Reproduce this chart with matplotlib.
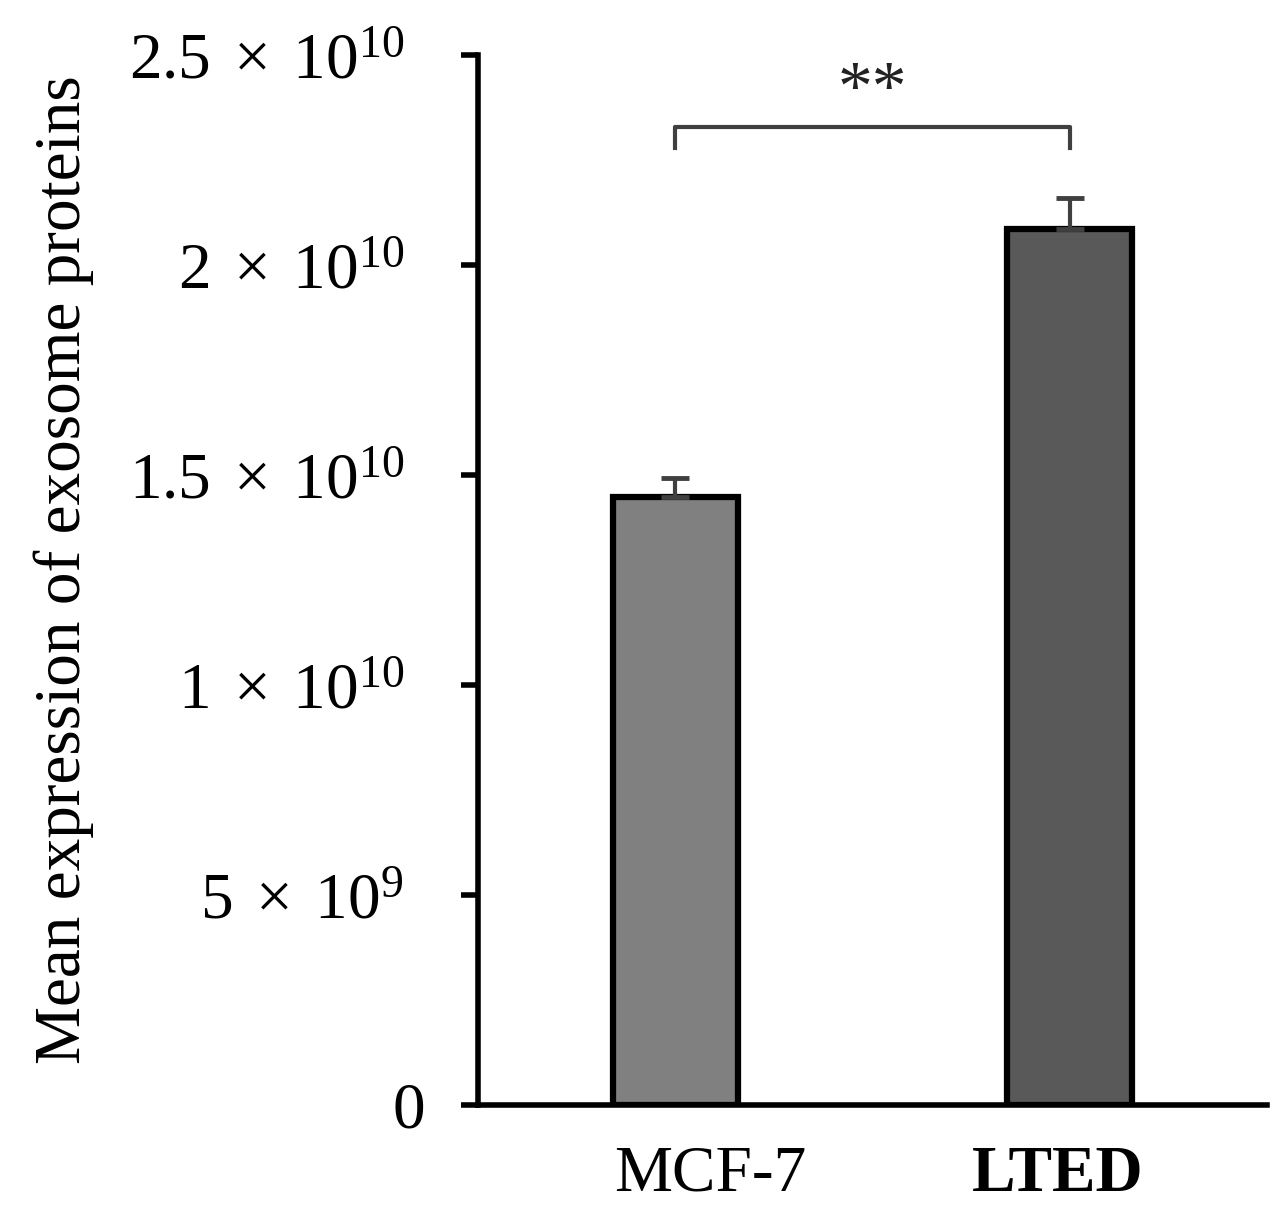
import numpy as np
import matplotlib
matplotlib.use("Agg")
import matplotlib.pyplot as plt
from matplotlib.transforms import ScaledTranslation

plt.rcParams['font.family'] = ['Liberation Serif', 'DejaVu Serif']
plt.rcParams['mathtext.fontset'] = 'custom'
plt.rcParams['mathtext.rm'] = 'Liberation Serif'
plt.rcParams['mathtext.it'] = 'Liberation Serif:italic'
plt.rcParams['mathtext.bf'] = 'Liberation Serif:bold'

# data
groups = ['MCF-7', 'LTED']
means = [1.448e10, 2.086e10]
errors = [0.045e10, 0.074e10]
bar_colors = ['#808080', '#595959']
y_ticks = [0, 5e9, 1e10, 1.5e10, 2e10, 2.5e10]
y_tick_labels = ['$0$', r'$5\;\times\;10^{9}$', r'$1\;\times\;10^{10}$',
                 r'$1.5\;\times\;10^{10}$', r'$2\;\times\;10^{10}$', r'$2.5\;\times\;10^{10}$']
signif = '**'

fig = plt.figure(figsize=(12.88, 12.15), dpi=100)
ax = fig.add_axes([478/1288, 1 - 1105/1215, (1267 - 478)/1288, (1105 - 55)/1215])

x = np.arange(len(groups))
ax.bar(x, means, width=0.317, color=bar_colors, edgecolor='black', linewidth=4.5, zorder=2)

# upper error bars only
ax.errorbar(x, means, yerr=[np.zeros(len(means)), errors], fmt='none',
            ecolor='#404040', elinewidth=3, capsize=10, capthick=3.5, zorder=3)

ax.set_xlim(-0.5, 1.5)
ax.set_ylim(0, 2.5e10)
ax.set_yticks(y_ticks)
ax.set_yticklabels(y_tick_labels, fontsize=47)
ax.set_xticks(x)
ax.set_xticklabels(groups, fontsize=47)
ax.get_xticklabels()[1].set_fontweight('bold')

ax.tick_params(axis='y', direction='out', length=12.5, width=4, pad=41)
ax.tick_params(axis='x', length=0, pad=29)

# nudge labels to where they sit in the original
lab0 = ax.get_yticklabels()[0]
lab0.set_transform(lab0.get_transform() + ScaledTranslation(20/100, 0, fig.dpi_scale_trans))
xl = ax.get_xticklabels()
xl[0].set_transform(xl[0].get_transform() + ScaledTranslation(35/100, 0, fig.dpi_scale_trans))
xl[1].set_transform(xl[1].get_transform() + ScaledTranslation(-12/100, 0, fig.dpi_scale_trans))

for side in ['top', 'right']:
    ax.spines[side].set_visible(False)
for side in ['left', 'bottom']:
    ax.spines[side].set_linewidth(4)

ax.set_ylabel('Mean expression of exosome proteins', fontsize=47)
ax.yaxis.set_label_coords((94 - 478)/789, (1105 - 570)/1050)

# significance bracket
top = 2.3286e10
leg = 2.279e10
ax.plot([x[0], x[0], x[1], x[1]], [leg, top, top, leg], color='#404040',
        linewidth=3, clip_on=False, zorder=3, solid_joinstyle='round')
ax.text((x[0] + x[1]) / 2, 2.372e10, signif, ha='center', va='baseline',
        fontsize=50, color='#222222', clip_on=False)

fig.savefig('out.png', dpi=100, facecolor='white')
